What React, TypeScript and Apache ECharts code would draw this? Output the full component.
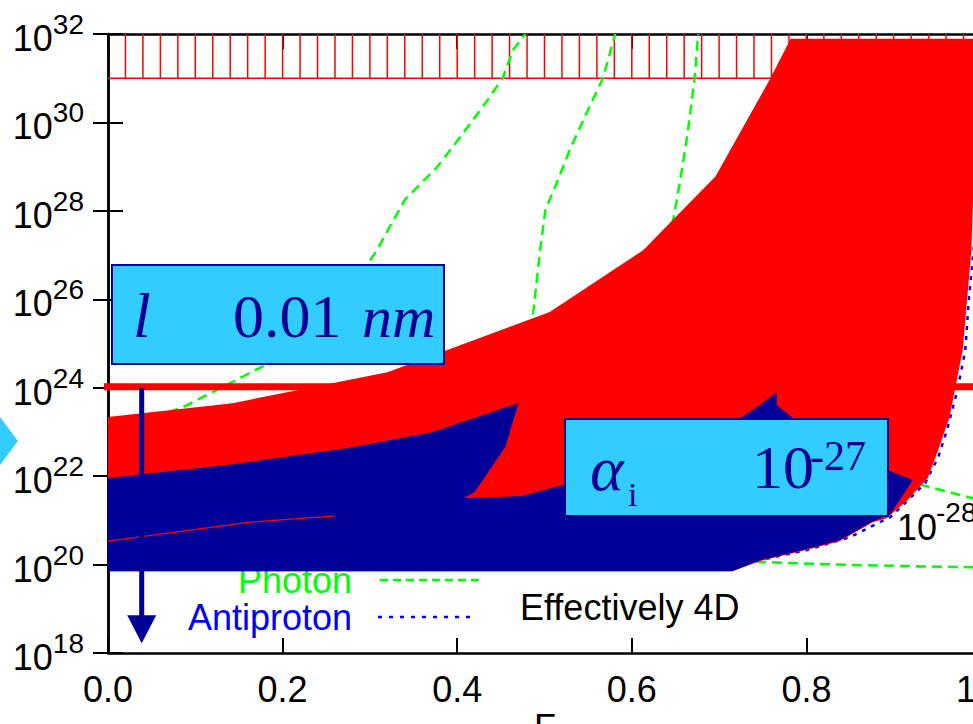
import React, { useEffect, useRef } from "react";
import * as echarts from "echarts";

// ---- axes (x: fraction, y: log10 of value) ----
const xMin = 0, xMax = 1, xStep = 0.2;
const yMinExp = 18, yMaxExp = 32, yStep = 2;

// ---- regions: [x, log10(value)] ----
const redRegion: [number, number][] = [
  [0.000, 23.34], [0.143, 23.65], [0.205, 23.90], [0.320, 24.35], [0.506, 25.71],
  [0.613, 27.11], [0.696, 28.78], [0.758, 30.97], [0.782, 31.89], [0.997, 31.89],
  [0.989, 27.11], [0.979, 24.85], [0.964, 23.34], [0.951, 22.59], [0.939, 21.96],
  [0.916, 21.46], [0.892, 21.05], [0.876, 20.96], [0.838, 20.53], [0.796, 20.31],
  [0.747, 20.08], [0.715, 19.85], [0.000, 19.85],
];
const navyRegion: [number, number][] = [
  [0.000, 21.96], [0.143, 22.27], [0.277, 22.64], [0.372, 23.00], [0.470, 23.65],
  [0.455, 22.66], [0.420, 21.64], [0.407, 21.50], [0.474, 21.55], [0.521, 21.80],
  [0.724, 23.31], [0.747, 23.61], [0.766, 23.90], [0.766, 23.61], [0.785, 23.31],
  [0.893, 22.14], [0.922, 21.91], [0.896, 21.14], [0.876, 20.98], [0.838, 20.55],
  [0.796, 20.33], [0.747, 20.10], [0.715, 19.85], [0.000, 19.85],
];
const redSliver: [number, number][] = [[0.000, 20.53], [0.163, 20.96], [0.26, 21.10]];

// ---- photon (green dashed) contours ----
const photon1: [number, number][] = [
  [0.000, 22.97], [0.086, 23.56], [0.178, 24.49], [0.297, 26.78], [0.308, 27.11],
  [0.340, 28.25], [0.377, 28.99], [0.407, 29.76], [0.435, 30.51], [0.452, 31.0],
  [0.464, 31.64], [0.478, 32.0],
];
const photon2: [number, number][] = [
  [0.483, 25.30], [0.487, 25.69], [0.495, 27.11], [0.501, 28.02], [0.514, 28.63],
  [0.529, 29.38], [0.546, 30.12], [0.567, 31.0], [0.581, 32.0],
];
const photon3: [number, number][] = [
  [0.646, 27.68], [0.648, 27.86], [0.655, 28.63], [0.664, 29.76], [0.672, 31.0], [0.676, 32.0],
];
const photon4: [number, number][] = [[0.913, 21.96], [0.936, 21.78], [0.991, 21.50], [1.0, 21.46]];
const photon5: [number, number][] = [[0.724, 20.10], [0.747, 20.06], [0.850, 19.99], [0.991, 19.94], [1.0, 19.94]];

// ---- antiproton (blue dotted) contour ----
const antiproton: [number, number][] = [
  [1.0, 29.0], [0.990, 26.82], [0.986, 25.98], [0.982, 24.85], [0.973, 23.95],
  [0.961, 23.04], [0.951, 22.43], [0.936, 21.84], [0.913, 21.39], [0.896, 21.07],
  [0.873, 20.85], [0.850, 20.62], [0.801, 20.33], [0.747, 20.10],
];

// ---- limits ----
const hatchBand = { x0: 0, x1: 1, y0: 31, y1: 32, step: 0.02 };
const limitLine: [number, number][] = [[-0.0126, 24.02], [1.0, 24.02]];
const arrowData: [number, number, number][] = [[0.0386, 24.0, 18.22]];

const RED = "#ff0000";
const NAVY = "#000099";
const CYAN = "#33ccff";
const GREEN = "#00ff00";
const BLUE = "#0000ff";
const SANS = "Liberation Sans";
const SERIF = "Liberation Serif";

function polySeries(pts: [number, number][], color: string, z: number) {
  return {
    type: "custom",
    coordinateSystem: "cartesian2d",
    silent: true,
    z,
    data: pts,
    encode: { x: 0, y: 1 },
    renderItem: (params: any, api: any) => {
      if (params.dataIndex !== 0) return null;
      return {
        type: "polygon",
        shape: { points: pts.map((p) => api.coord(p)) },
        style: { fill: color, lineWidth: 0 },
      };
    },
  };
}

function lineSeries(pts: [number, number][], color: string, width: number, dash: any, z: number) {
  return {
    type: "line",
    data: pts,
    symbol: "none",
    silent: true,
    z,
    lineStyle: { color, width, type: dash },
  };
}

export default function App() {
  const ref = useRef<HTMLDivElement>(null);
  useEffect(() => {
    document.body.style.margin = "0";
    const chart = echarts.init(ref.current!, undefined, { renderer: "svg" });
    const axisLine = { show: true, lineStyle: { color: "#000", width: 2.5 } };
    const tick = { show: true, inside: true, length: 15, lineStyle: { color: "#000", width: 2 } };
    const option: any = {
      animation: false,
      backgroundColor: "#fff",
      grid: { left: 108, top: 34, width: 873, height: 619, containLabel: false, outerBoundsMode: "none" },
      xAxis: [
        {
          type: "value", min: xMin, max: xMax, interval: xStep, position: "bottom",
          axisLine, axisTick: tick, splitLine: { show: false },
          axisLabel: {
            margin: 18, fontSize: 36, fontFamily: SANS, color: "#000",
            formatter: (v: number) => v.toFixed(1),
          },
        },
        {
          type: "value", min: xMin, max: xMax, interval: xStep, position: "top",
          axisLine, axisTick: tick, splitLine: { show: false }, axisLabel: { show: false },
        },
      ],
      yAxis: [
        {
          type: "value", min: yMinExp, max: yMaxExp, interval: yStep, position: "left",
          axisLine, axisTick: tick, splitLine: { show: false },
          axisLabel: {
            margin: 24,
            formatter: (v: number) => `{b|10}{s|${v}}`,
            rich: {
              b: { fontSize: 36, fontFamily: SANS, color: "#000", padding: [9, 0, 0, 0] },
              s: { fontSize: 28, fontFamily: SANS, color: "#000", padding: [0, 0, 19, 0] },
            },
          },
        },
        {
          type: "value", min: yMinExp, max: yMaxExp, interval: yStep, position: "right",
          axisLine, axisTick: tick, splitLine: { show: false }, axisLabel: { show: false },
        },
      ],
      series: [
        {
          type: "custom",
          coordinateSystem: "cartesian2d",
          silent: true,
          z: 1,
          data: [[hatchBand.x0, hatchBand.y0]],
          encode: { x: 0, y: 1 },
          renderItem: (params: any, api: any) => {
            const children: any[] = [];
            const a = api.coord([hatchBand.x0, hatchBand.y0]);
            const b = api.coord([hatchBand.x1, hatchBand.y0]);
            children.push({ type: "line", shape: { x1: a[0], y1: a[1], x2: b[0], y2: b[1] }, style: { stroke: RED, lineWidth: 1.5 } });
            const n = Math.round((hatchBand.x1 - hatchBand.x0) / hatchBand.step);
            for (let i = 1; i <= n; i++) {
              const x = hatchBand.x0 + i * hatchBand.step;
              const p = api.coord([x, hatchBand.y0]);
              const q = api.coord([x, hatchBand.y1]);
              children.push({ type: "line", shape: { x1: p[0], y1: p[1], x2: q[0], y2: q[1] }, style: { stroke: RED, lineWidth: 1.5 } });
            }
            return { type: "group", children };
          },
        },
        lineSeries(photon1, GREEN, 2.5, [10, 6], 2),
        lineSeries(photon2, GREEN, 2.5, [10, 6], 2),
        lineSeries(photon3, GREEN, 2.5, [10, 6], 2),
        lineSeries(photon4, GREEN, 2.5, [10, 6], 2),
        lineSeries(photon5, GREEN, 2.5, [10, 6], 2),
        lineSeries(antiproton, BLUE, 2.5, [4, 6], 2),
        polySeries(redRegion, RED, 3),
        polySeries(navyRegion, NAVY, 4),
        lineSeries(redSliver, RED, 1.3, "solid", 5),
        { ...lineSeries(limitLine, RED, 7, "solid", 6), clip: false },
        {
          type: "custom",
          coordinateSystem: "cartesian2d",
          silent: true,
          z: 7,
          clip: false,
          data: arrowData,
          encode: { x: 0, y: 1 },
          renderItem: (params: any, api: any) => {
            const [x, yTop, yTip] = arrowData[params.dataIndex];
            const top = api.coord([x, yTop]);
            const tip = api.coord([x, yTip]);
            const headH = 28, headW = 29;
            return {
              type: "group",
              children: [
                { type: "line", shape: { x1: top[0], y1: top[1], x2: tip[0], y2: tip[1] - headH + 1 }, style: { stroke: NAVY, lineWidth: 5 } },
                { type: "polygon", shape: { points: [[tip[0] - headW / 2, tip[1] - headH], [tip[0] + headW / 2, tip[1] - headH], [tip[0], tip[1]]] }, style: { fill: NAVY } },
              ],
            };
          },
        },
      ],
      graphic: [
        // legend
        { type: "text", z: 0, style: { text: "Photon", x: 352, y: 580, align: "right", verticalAlign: "middle", fontSize: 36, lineHeight: 30, fontFamily: SANS, fill: GREEN } },
        { type: "line", z: 0, shape: { x1: 380, y1: 580, x2: 483, y2: 580 }, style: { stroke: GREEN, lineWidth: 2.5, lineDash: [8, 5] } },
        { type: "text", z: 0, style: { text: "Antiproton", x: 352, y: 617, align: "right", verticalAlign: "middle", fontSize: 36, lineHeight: 30, fontFamily: SANS, fill: BLUE } },
        { type: "line", z: 0, shape: { x1: 378, y1: 617, x2: 476, y2: 617 }, style: { stroke: BLUE, lineWidth: 2.5, lineDash: [4, 7] } },
        { type: "text", z: 0, style: { text: "Effectively 4D", x: 520, y: 607, align: "left", verticalAlign: "middle", fontSize: 36, lineHeight: 30, fontFamily: SANS, fill: "#000" } },
        // 10^-28 label
        { type: "text", z: 50, style: { text: "10", x: 897, y: 527, align: "left", verticalAlign: "middle", fontSize: 36, fontFamily: SANS, fill: "#000" } },
        { type: "text", z: 50, style: { text: "-28", x: 936, y: 512, align: "left", verticalAlign: "middle", fontSize: 28, fontFamily: SANS, fill: "#000" } },
        // x axis name
        { type: "text", z: 50, style: { text: "F", x: 545, y: 727, align: "center", verticalAlign: "middle", fontSize: 36, fontFamily: SANS, fill: "#000" } },
        // left pointer
        { type: "polygon", z: 50, shape: { points: [[0, 417], [18, 441], [0, 465]] }, style: { fill: CYAN } },
        // box A
        { type: "rect", z: 100, shape: { x: 112, y: 265, width: 332, height: 99 }, style: { fill: CYAN, stroke: NAVY, lineWidth: 2 } },
        { type: "text", z: 101, style: { text: "l", x: 133, y: 315, align: "left", verticalAlign: "middle", fontSize: 64, fontStyle: "italic", fontFamily: SERIF, fill: NAVY } },
        { type: "text", z: 101, style: { text: "0.01", x: 233, y: 316, align: "left", verticalAlign: "middle", fontSize: 62, fontFamily: SERIF, fill: NAVY } },
        { type: "text", z: 101, style: { text: "nm", x: 362, y: 317, align: "left", verticalAlign: "middle", fontSize: 60, fontStyle: "italic", fontFamily: SERIF, fill: NAVY } },
        // box B
        { type: "rect", z: 100, shape: { x: 565, y: 419, width: 323, height: 97 }, style: { fill: CYAN, stroke: NAVY, lineWidth: 2 } },
        { type: "text", z: 101, style: { text: "α", x: 590, y: 468, align: "left", verticalAlign: "middle", fontSize: 64, fontStyle: "italic", fontFamily: SERIF, fill: NAVY } },
        { type: "text", z: 101, style: { text: "i", x: 628, y: 494, align: "left", verticalAlign: "middle", fontSize: 34, fontFamily: SERIF, fill: NAVY } },
        { type: "text", z: 101, style: { text: "10", x: 752, y: 467, align: "left", verticalAlign: "middle", fontSize: 62, fontFamily: SERIF, fill: NAVY } },
        { type: "text", z: 101, style: { text: "-27", x: 810, y: 456, align: "left", verticalAlign: "middle", fontSize: 42, fontFamily: SERIF, fill: NAVY } },
      ],
    };
    chart.setOption(option);
    return () => chart.dispose();
  }, []);
  return <div ref={ref} style={{ width: 973, height: 724 }} />;
}
